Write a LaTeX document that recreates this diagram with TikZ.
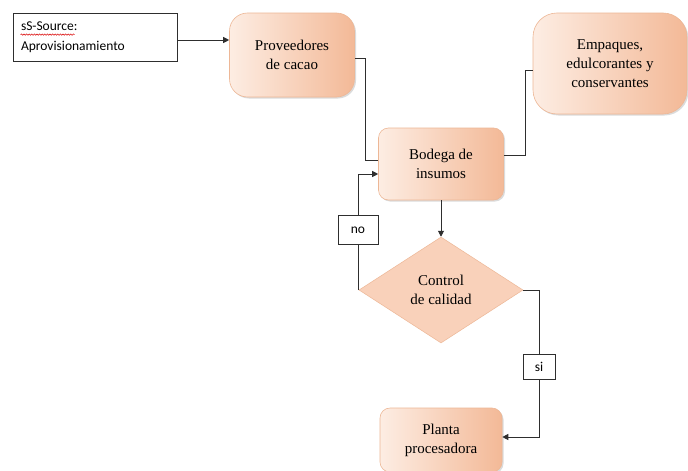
\documentclass[tikz,border=0pt]{standalone}
\usepackage{fontspec}
\setmainfont{Liberation Serif}
\newfontfamily\labelfont{Carlito}
\usetikzlibrary{arrows.meta,shapes.geometric,shadows,decorations.pathmorphing,calc}

\definecolor{peachlight}{HTML}{FDEDE3}
\definecolor{peachmid}{HTML}{FADACA}
\definecolor{peachdark}{HTML}{F3B997}
\definecolor{peachflat}{HTML}{F9D1BA}
\definecolor{peachedge}{HTML}{EDB796}
\definecolor{linkgray}{HTML}{2E2E2E}

\tikzset{
  procbox/.style={shape=rectangle, left color=peachlight, middle color=peachmid,
    right color=peachdark, draw=peachedge, line width=0.6pt, align=center,
    font=\fontsize{15}{19}\selectfont, inner sep=0pt,
    drop shadow={shadow xshift=1.5pt, shadow yshift=-1.5pt, opacity=0.2, fill=black!70}},
  decision/.style={shape=diamond, fill=peachflat, draw=peachedge, line width=0.5pt,
    align=center, font=\fontsize{15}{19}\selectfont, inner sep=0pt},
  notebox/.style={draw=linkgray, line width=0.8pt, fill=white, font=\labelfont\fontsize{13.5}{20}\selectfont},
  link/.style={draw=linkgray, line width=0.9pt},
  arrowlink/.style={link, -{Triangle[length=6pt,width=6pt]}},
}

\begin{document}
\begin{tikzpicture}[x=1pt,y=-1pt]
  \useasboundingbox[fill=white] (0,0) rectangle (688,471);

  % process boxes
  \node[procbox, rounded corners=18pt, minimum width=125pt, minimum height=84pt]
    (prov) at (292,55) {Proveedores\\de cacao};
  \node[procbox, rounded corners=24pt, minimum width=154pt, minimum height=101pt]
    (emp) at (610,63.5) {Empaques,\\edulcorantes y\\conservantes};
  \node[procbox, rounded corners=10pt, minimum width=125pt, minimum height=72pt]
    (bodega) at (441,164) {Bodega de\\insumos};
  \node[procbox, rounded corners=10pt, minimum width=122pt, minimum height=64pt]
    (planta) at (441,440) {Planta\\procesadora};

  % quality decision
  \node[decision, minimum width=164pt, minimum height=106pt]
    (qc) at (441,290) {Control\\de calidad};

  % source note
  \node[notebox, minimum width=164pt, minimum height=48pt, text width=148pt,
    inner xsep=8pt, align=left] (src) at (95,37) {sS-Source:\\Aprovisionamiento};
  \coordinate (squig) at ($(src.north west)+(8,22)$);
  \draw[red!85!black, line width=0.5pt, decorate,
    decoration={snake, amplitude=0.7pt, segment length=2.6pt}]
    (squig) -- ++(54,0);

  % connectors
  \draw[arrowlink] ([yshift=-3pt]src.east) -- ([yshift=-3pt]src.east -| prov.west);
  \draw[link] ([yshift=-3pt]prov.east) -- ++(11,0) |- ([yshift=4pt]bodega.west);
  \draw[link] ([yshift=9pt]bodega.east) -- ++(22,0) |- ([yshift=-6.5pt]emp.west);
  \draw[arrowlink] (bodega.south) -- (qc.north);
  \draw[arrowlink] (qc.west) |- ([yshift=-10pt]bodega.west);
  \draw[arrowlink] (qc.east) -- ++(16,0) |- ([yshift=3pt]planta.east);

  % branch labels
  \node[notebox, line width=0.7pt, minimum width=40pt, minimum height=29pt, inner sep=0pt]
    (no) at (358,230) {no};
  \node[notebox, line width=0.7pt, minimum width=32pt, minimum height=25pt, inner sep=0pt]
    (si) at (539,367) {si};
\end{tikzpicture}
\end{document}
